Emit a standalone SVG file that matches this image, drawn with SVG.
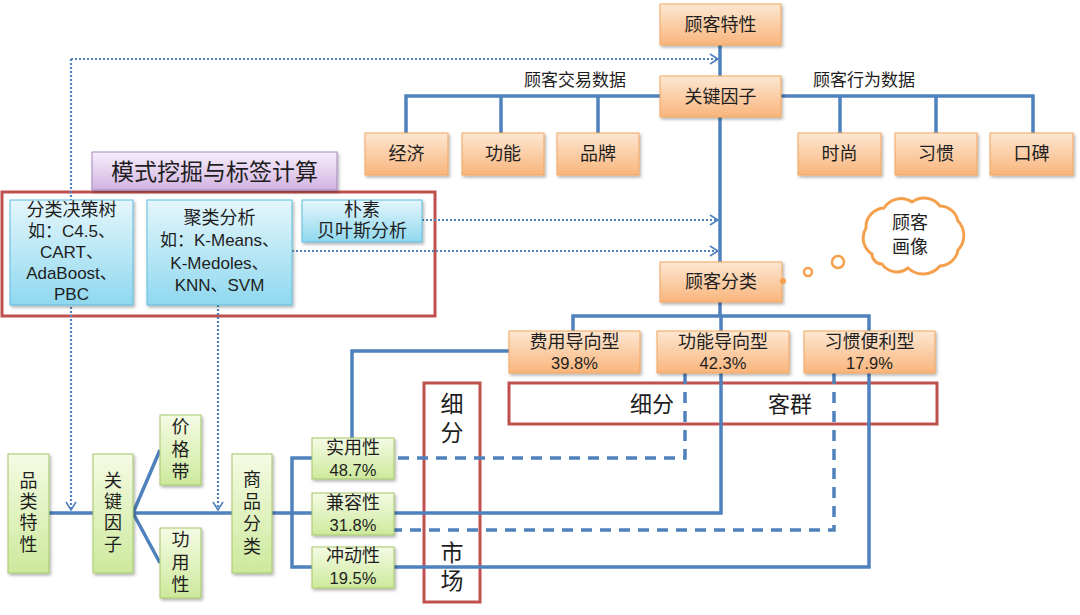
<svg xmlns="http://www.w3.org/2000/svg" width="1080" height="615" viewBox="0 0 1080 615">
<defs>
<linearGradient id="gO" x1="0" y1="0" x2="0" y2="1"><stop offset="0" stop-color="#fde7d2"/><stop offset="1" stop-color="#f9b57c"/></linearGradient>
<linearGradient id="gC" x1="0" y1="0" x2="0" y2="1"><stop offset="0" stop-color="#e4f6fc"/><stop offset="1" stop-color="#8fd8ef"/></linearGradient>
<linearGradient id="gG" x1="0" y1="0" x2="0" y2="1"><stop offset="0" stop-color="#f5fbe4"/><stop offset="1" stop-color="#cde99c"/></linearGradient>
<linearGradient id="gP" x1="0" y1="0" x2="0" y2="1"><stop offset="0" stop-color="#f7effb"/><stop offset="1" stop-color="#d2b3e2"/></linearGradient>
<filter id="sh" x="-10%" y="-10%" width="130%" height="140%"><feDropShadow dx="1.5" dy="2" stdDeviation="1.5" flood-color="#000" flood-opacity="0.3"/></filter>
<marker id="ar" viewBox="0 0 10 12" refX="9" refY="6" markerWidth="10" markerHeight="12" markerUnits="userSpaceOnUse" orient="auto"><path d="M1,1 L9,6 L1,11" fill="none" stroke="#4f81bd" stroke-width="1.6"/></marker>
</defs>
<style>
text{font-family:"Liberation Sans","Noto Sans CJK SC",sans-serif;fill:#1e1e1e;text-anchor:middle;dominant-baseline:central}
.ob{fill:url(#gO);stroke:#f2a55f;stroke-width:1;filter:url(#sh)}
.cb{fill:url(#gC);stroke:#5fbcdc;stroke-width:1;filter:url(#sh)}
.gb{fill:url(#gG);stroke:#a3c766;stroke-width:1;filter:url(#sh)}
.pb{fill:url(#gP);stroke:#a587bd;stroke-width:1;filter:url(#sh)}
.rf{fill:none;stroke:#c0504d;stroke-width:3}
.ln{fill:none;stroke:#4f81bd;stroke-width:3.5}
.dl{fill:none;stroke:#4f81bd;stroke-width:3.5;stroke-dasharray:11 8}
.dt{fill:none;stroke:#4f81bd;stroke-width:2.2;stroke-dasharray:2 2}
.t18{font-size:18px}
.t17{font-size:17px}
.t16{font-size:16.5px}
.cl{fill:#fff;stroke:#f4a04c;stroke-width:3}
</style>
<rect width="1080" height="615" fill="#fff"/>

<g id="frames">
<rect class="rf" x="2" y="192" width="433" height="124"/>
<rect class="rf" x="509" y="383" width="428" height="41"/>
<text x="652" y="404" style="font-size:22px">细分</text>
<text x="790" y="404" style="font-size:22px">客群</text>
<rect class="rf" x="424" y="383" width="56" height="219"/>
<text x="452" y="404" style="font-size:23px">细</text>
<text x="452" y="433" style="font-size:23px">分</text>
<text x="452" y="553" style="font-size:23px">市</text>
<text x="452" y="581" style="font-size:23px">场</text>
</g>

<g id="connectors">
<path class="ln" d="M720,45 V76 M720,117 V262 M720,302 V316"/>
<path class="ln" d="M660,96 H406 V133 M501,96 V133 M598,96 V133"/>
<path class="ln" d="M781,96 H1033 V133 M840,96 V133 M936,96 V133"/>
<path class="ln" d="M573,331 V316 H869 V331 M721,316 V331"/>
<path class="ln" d="M509,351 H352 V438"/>
<path class="ln" d="M721,373 V513 H394"/>
<path class="ln" d="M869,373 V567 H394"/>
<path class="dl" d="M685,373 V458 H394"/>
<path class="dl" d="M834,373 V530 H394"/>
<path class="ln" d="M49,513 H93 M133,513 H232 M133,513 L160,450 M133,513 L160,563"/>
<path class="ln" d="M272,513 H312 M312,458 H292 V567 H312"/>
<path class="dt" d="M71,59 H718" marker-end="url(#ar)"/>
<path class="dt" d="M71,59 V510" marker-end="url(#ar)"/>
<path class="dt" d="M218,305 V510" marker-end="url(#ar)"/>
<path class="dt" d="M422,220 H718" marker-end="url(#ar)"/>
<path class="dt" d="M292,251 H718" marker-end="url(#ar)"/>
</g>

<g id="labels">
<text class="t17" x="575" y="80">顾客交易数据</text>
<text class="t17" x="864" y="80">顾客行为数据</text>
</g>

<g id="n-gkts"><rect class="ob" x="660" y="4" width="121" height="41"/><text class="t18" x="720.5" y="25">顾客特性</text></g>
<g id="n-gjyz"><rect class="ob" x="660" y="76" width="121" height="41"/><text class="t18" x="720.5" y="97">关键因子</text></g>
<g id="n-jj"><rect class="ob" x="365" y="133" width="83" height="42"/><text class="t18" x="406.5" y="154">经济</text></g>
<g id="n-gn"><rect class="ob" x="462" y="133" width="82" height="42"/><text class="t18" x="503" y="154">功能</text></g>
<g id="n-pp"><rect class="ob" x="557" y="133" width="82" height="42"/><text class="t18" x="598" y="154">品牌</text></g>
<g id="n-ss"><rect class="ob" x="798" y="133" width="83" height="42"/><text class="t18" x="839.5" y="154">时尚</text></g>
<g id="n-xg"><rect class="ob" x="895" y="133" width="82" height="42"/><text class="t18" x="936" y="154">习惯</text></g>
<g id="n-kb"><rect class="ob" x="990" y="133" width="83" height="42"/><text class="t18" x="1031.5" y="154">口碑</text></g>
<g id="n-gkfl"><rect class="ob" x="660" y="262" width="122" height="40"/><text class="t18" x="721" y="282">顾客分类</text></g>
<g id="n-fy"><rect class="ob" x="509" y="331" width="131" height="42"/><text class="t18" x="574.5" y="342">费用导向型</text><text class="t16" x="574.5" y="363">39.8%</text></g>
<g id="n-gndx"><rect class="ob" x="657" y="331" width="132" height="42"/><text class="t18" x="723" y="342">功能导向型</text><text class="t16" x="723" y="363">42.3%</text></g>
<g id="n-xgbl"><rect class="ob" x="804" y="331" width="131" height="42"/><text class="t18" x="869.5" y="342">习惯便利型</text><text class="t16" x="869.5" y="363">17.9%</text></g>

<g id="n-cloud">
<path class="cl" d="M872,254 A19,19 0 0 1 866,228 A19,19 0 0 1 884,208 A20,20 0 0 1 912,202 A20,20 0 0 1 940,206 A19,19 0 0 1 958,221 A21,21 0 0 1 958,250 A19,19 0 0 1 940,266 A22,22 0 0 1 908,268 A18,18 0 0 1 882,264 A10,10 0 0 1 872,254 Z"/>
<text class="t18" x="910" y="223">顾客</text>
<text class="t18" x="910" y="247">画像</text>
<circle cx="838" cy="262" r="6" fill="#fff" stroke="#f4a04c" stroke-width="2.5"/>
<circle cx="808" cy="272" r="4" fill="#fff" stroke="#f4a04c" stroke-width="2.5"/>
<circle cx="783" cy="281" r="3" fill="#f4a04c"/>
</g>

<g id="n-mswj"><rect class="pb" x="92" y="152" width="245" height="38"/><text x="214.5" y="172" style="font-size:23px">模式挖掘与标签计算</text></g>
<g id="n-flj"><rect class="cb" x="10" y="200" width="123" height="105"/>
<text class="t18" x="71.5" y="210">分类决策树</text>
<text class="t17" x="71.5" y="231">如：C4.5、</text>
<text class="t17" x="71.5" y="252">CART、</text>
<text class="t17" x="71.5" y="273">AdaBoost、</text>
<text class="t17" x="71.5" y="294">PBC</text></g>
<g id="n-jlfx"><rect class="cb" x="147" y="200" width="145" height="105"/>
<text class="t18" x="219.5" y="218">聚类分析</text>
<text class="t17" x="219.5" y="240">如：K-Means、</text>
<text class="t17" x="219.5" y="263">K-Medoles、</text>
<text class="t17" x="219.5" y="285">KNN、SVM</text></g>
<g id="n-bys"><rect class="cb" x="302" y="200" width="120" height="42"/>
<text class="t18" x="362" y="210">朴素</text>
<text class="t18" x="362" y="231">贝叶斯分析</text></g>

<g id="n-pltx"><rect class="gb" x="8" y="454" width="41" height="119"/>
<text class="t18" x="28.5" y="481">品</text><text class="t18" x="28.5" y="502">类</text><text class="t18" x="28.5" y="523">特</text><text class="t18" x="28.5" y="545">性</text></g>
<g id="n-gjyz2"><rect class="gb" x="93" y="454" width="40" height="119"/>
<text class="t18" x="113" y="481">关</text><text class="t18" x="113" y="502">键</text><text class="t18" x="113" y="523">因</text><text class="t18" x="113" y="545">子</text></g>
<g id="n-jgd"><rect class="gb" x="160" y="415" width="41" height="70"/>
<text class="t18" x="180.5" y="427">价</text><text class="t18" x="180.5" y="450">格</text><text class="t18" x="180.5" y="472">带</text></g>
<g id="n-gyx"><rect class="gb" x="160" y="528" width="41" height="70"/>
<text class="t18" x="180.5" y="540">功</text><text class="t18" x="180.5" y="563">用</text><text class="t18" x="180.5" y="585">性</text></g>
<g id="n-spfl"><rect class="gb" x="232" y="454" width="40" height="119"/>
<text class="t18" x="252" y="480">商</text><text class="t18" x="252" y="502">品</text><text class="t18" x="252" y="524">分</text><text class="t18" x="252" y="547">类</text></g>
<g id="n-syx"><rect class="gb" x="312" y="438" width="82" height="41"/>
<text class="t18" x="353" y="448">实用性</text><text class="t16" x="353" y="470">48.7%</text></g>
<g id="n-jrx"><rect class="gb" x="312" y="493" width="82" height="42"/>
<text class="t18" x="353" y="503">兼容性</text><text class="t16" x="353" y="525">31.8%</text></g>
<g id="n-cdx"><rect class="gb" x="312" y="547" width="82" height="41"/>
<text class="t18" x="353" y="556">冲动性</text><text class="t16" x="353" y="578">19.5%</text></g>
</svg>
